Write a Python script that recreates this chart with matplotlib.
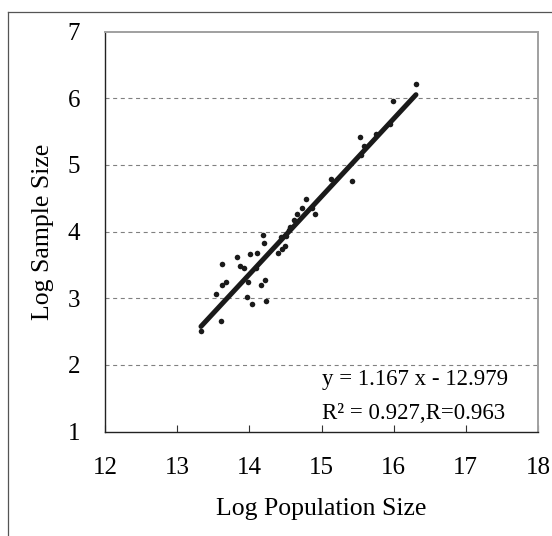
import matplotlib
matplotlib.use("Agg")
import matplotlib.pyplot as plt
import numpy as np
from matplotlib.lines import Line2D

plt.rcParams["font.family"] = ["Liberation Serif", "DejaVu Serif"]
plt.rcParams["lines.scale_dashes"] = False

# Observations (log scale)
log_population = [13.330, 13.607, 13.545, 13.621, 13.677, 13.621, 13.836, 13.877,
                  13.926, 14.013, 14.110, 13.986, 13.972, 14.033, 14.162, 14.217,
                  14.235, 14.092, 14.203, 14.185, 14.393, 14.448, 14.501, 14.432,
                  14.508, 14.563, 14.550, 14.619, 14.667, 14.726, 14.785, 14.875,
                  14.910, 15.138, 15.429, 15.551, 15.589, 15.533, 15.755, 15.949,
                  15.991, 16.309]
log_sample = [2.509, 2.659, 3.064, 3.199, 3.237, 3.515, 3.612, 3.485,
              3.455, 3.657, 3.680, 3.237, 3.015, 2.910, 3.200, 3.275,
              2.960, 3.450, 3.825, 3.950, 3.680, 3.735, 3.785, 3.920,
              3.935, 4.070, 4.025, 4.167, 4.257, 4.350, 4.485, 4.350,
              4.265, 4.790, 4.760, 5.150, 5.278, 5.425, 5.465, 5.615,
              5.960, 6.211]

# Linear trend line
slope = 1.167
intercept = -12.979
r_squared = 0.927
r_value = 0.963

x_ticks = [12, 13, 14, 15, 16, 17, 18]
y_ticks = [1, 2, 3, 4, 5, 6, 7]
grid_levels = [2, 3, 4, 5, 6]

W, H = 552, 536
fig = plt.figure(figsize=(W / 100, H / 100), dpi=100)
ax = fig.add_axes([105 / W, 1 - 431.6 / H, 433 / W, 400 / H])

# outer frame (open to the right and bottom)
fig.add_artist(Line2D([7.7 / W, 7.7 / W], [0, 1 - 11.6 / H],
                      transform=fig.transFigure, color="#555555", lw=0.9))
fig.add_artist(Line2D([7.7 / W, 1], [1 - 11.6 / H, 1 - 11.6 / H],
                      transform=fig.transFigure, color="#555555", lw=0.9))

for g in grid_levels:
    ax.axhline(g, color="#808080", lw=0.8, dashes=(2.9, 2.6), zorder=1)

ax.scatter(log_population, log_sample, s=16, color="#1a1a1a", zorder=3,
           linewidths=0)

xs = np.array([min(log_population), max(log_population)])
ax.plot(xs, slope * xs + intercept, color="#1a1a1a", lw=3.6,
        solid_capstyle="round", zorder=2)

ax.set_xlim(12, 18)
ax.set_ylim(1, 7)
ax.set_xticks(x_ticks)
ax.set_yticks(y_ticks)
ax.tick_params(axis="x", direction="in", length=5, width=0.8, color="#333333",
               pad=18, labelsize=18)
ax.tick_params(axis="y", length=0, pad=18, labelsize=18)

for side in ("left", "bottom"):
    ax.spines[side].set_color("#222222")
    ax.spines[side].set_linewidth(1.0)
for side in ("top", "right"):
    ax.spines[side].set_color("#a0a0a0")
    ax.spines[side].set_linewidth(1.4)

ax.set_xlabel("Log Population Size", fontsize=18.5, labelpad=14)
ax.set_ylabel("Log Sample Size", fontsize=18.5, labelpad=10)

ax.text(0.501, 0.131, f"y = {slope:.3f} x - {abs(intercept):.3f}",
        transform=ax.transAxes, fontsize=16.5, va="center", ha="left")
ax.text(0.501, 0.046, f"R\u00b2 = {r_squared:.3f},R={r_value:.3f}",
        transform=ax.transAxes, fontsize=16.5, va="center", ha="left")

fig.savefig("out.png", dpi=100)
